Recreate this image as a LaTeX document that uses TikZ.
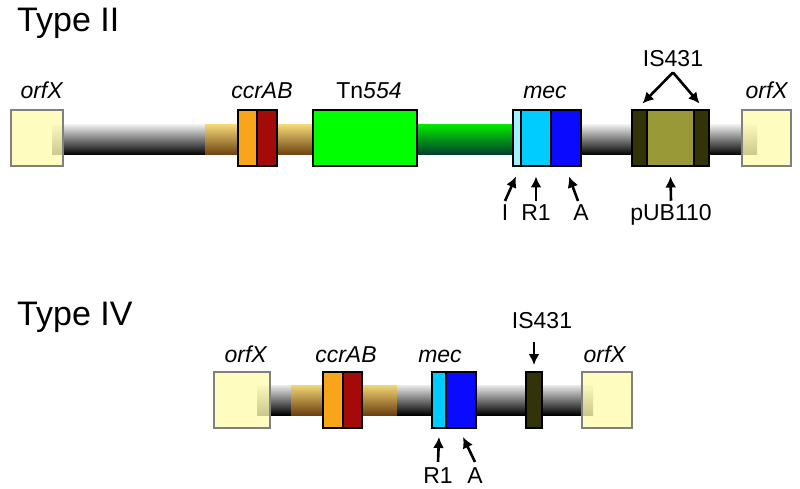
\documentclass[tikz,border=0pt]{standalone}
\usepackage{fontspec}
\setmainfont{Liberation Sans}
\usetikzlibrary{arrows.meta}

\begin{document}
\begin{tikzpicture}[x=1pt, y=-1pt]
  \definecolor{orfyellow}{HTML}{FFFBB0}
  \definecolor{ccrorange}{HTML}{F9A51B}
  \definecolor{ccrred}{HTML}{A50A0A}
  \definecolor{tngreen}{HTML}{00FF00}
  \definecolor{meci}{HTML}{A0F0FF}
  \definecolor{mecr}{HTML}{00CCFF}
  \definecolor{meca}{HTML}{0A0AFF}
  \definecolor{isdark}{HTML}{333308}
  \definecolor{isolive}{HTML}{999938}
  \definecolor{browntop}{HTML}{F2D675}
  \definecolor{brownbot}{HTML}{6B400F}
  \definecolor{greenbot}{HTML}{003B30}
  \tikzstyle{gene}=[draw=black, line width=2pt, inner sep=0pt, minimum height=56pt]
  \tikzstyle{orf}=[gene, draw=gray, fill=orfyellow, fill opacity=0.8]
  \tikzstyle{backbone}=[top color=white!92!black, bottom color=black]
  \tikzstyle{brownbar}=[top color=browntop, bottom color=brownbot]
  \tikzstyle{lbl}=[font=\fontsize{23}{27}\selectfont, inner sep=0pt, anchor=base]
  \tikzstyle{title}=[font=\fontsize{34}{40}\selectfont, inner sep=0pt, anchor=base west]
  \tikzstyle{pointer}=[-{Latex[length=11pt,width=11pt]}, line width=2.6pt]

  \useasboundingbox (0,0) rectangle (800,489);

%% Type II
  \node[title] (type2) at (17,32) {Type II};

  \shade[backbone] (52,125) rectangle (205,155);
  \shade[brownbar] (205,125) rectangle (313,155);
  \shade[top color=tngreen!90!black, bottom color=greenbot] (417,125) rectangle (513,155);
  \shade[backbone] (581,125) rectangle (632,155);
  \shade[backbone] (709,125) rectangle (757,155);

  \node[orf, minimum width=52pt] (orfL2) at (37,138.5) {};
  \node[gene, fill=ccrorange, minimum width=19pt] (ccrA2) at (247.5,138.5) {};
  \node[gene, fill=ccrred, minimum width=20pt] (ccrB2) at (267,138.5) {};
  \node[gene, fill=tngreen, minimum width=104pt] (tn2) at (365,138.5) {};
  \node[gene, fill=meci, minimum width=8pt] (mecI2) at (517,138.5) {};
  \node[gene, fill=mecr, minimum width=30pt] (mecR2) at (536,138.5) {};
  \node[gene, fill=meca, minimum width=30pt] (mecA2) at (566,138.5) {};
  \node[gene, fill=isdark, minimum width=15pt] (isL2) at (639.5,138.5) {};
  \node[gene, fill=isolive, minimum width=47pt] (isM2) at (670.5,138.5) {};
  \node[gene, fill=isdark, minimum width=15pt] (isR2) at (701.5,138.5) {};
  \node[orf, minimum width=49pt] (orfR2) at (766.5,138.5) {};

  \node[lbl] (orfLab2) at (42,99) {\textit{orfX}};
  \node[lbl] (ccrLab2) at (262,99) {\textit{ccrAB}};
  \node[lbl] (tnLab2) at (369,99) {Tn\textit{554}};
  \node[lbl] (mecLab2) at (545,99) {\textit{mec}};
  \node[lbl] (isLab2) at (673,67) {IS431};
  \node[lbl] (orfRLab2) at (767,99) {\textit{orfX}};
  \node[lbl] (iLab2) at (505,220) {I};
  \node[lbl] (r1Lab2) at (536,220) {R1};
  \node[lbl] (aLab2) at (581,220) {A};
  \node[lbl] (pubLab2) at (671,220) {pUB110};

  \draw[pointer] ([yshift=-5pt]isLab2.south) -- ([shift={(3pt,6pt)}]isL2.north);
  \draw[pointer] ([yshift=-5pt]isLab2.south) -- ([shift={(-2pt,6pt)}]isR2.north);
  \draw[pointer] ([yshift=3pt]iLab2.north) -- ([shift={(-1pt,-9pt)}]mecI2.south);
  \draw[pointer] ([yshift=3pt]r1Lab2.north) -- ([yshift=-9pt]mecR2.south);
  \draw[pointer] ([shift={(-3pt,3pt)}]aLab2.north) -- ([shift={(3pt,-9pt)}]mecA2.south);
  \draw[pointer] ([yshift=3pt]pubLab2.north) -- ([yshift=-9pt]isM2.south);

%% Type IV
  \node[title] (type4) at (17,325) {Type IV};

  \shade[backbone] (257,385) rectangle (291,415);
  \shade[brownbar] (291,385) rectangle (397,415);
  \shade[backbone] (397,385) rectangle (593,415);

  \node[orf, minimum width=56pt] (orfL4) at (242,400) {};
  \node[gene, fill=ccrorange, minimum width=20pt] (ccrA4) at (333,400) {};
  \node[gene, fill=ccrred, minimum width=19pt] (ccrB4) at (352.5,400) {};
  \node[gene, fill=mecr, minimum width=14pt] (mecR4) at (439,400) {};
  \node[gene, fill=meca, minimum width=30pt] (mecA4) at (461,400) {};
  \node[gene, fill=isdark, minimum width=16pt] (is4) at (534,400) {};
  \node[orf, minimum width=50pt] (orfR4) at (607,400) {};

  \node[lbl] (orfLab4) at (246,362) {\textit{orfX}};
  \node[lbl] (ccrLab4) at (346,362) {\textit{ccrAB}};
  \node[lbl] (mecLab4) at (440,362) {\textit{mec}};
  \node[lbl] (isLab4) at (542,328) {IS431};
  \node[lbl] (orfRLab4) at (605,362) {\textit{orfX}};
  \node[lbl] (r1Lab4) at (438,483) {R1};
  \node[lbl] (aLab4) at (475,483) {A};

  \coordinate (isTail4) at (534,342);
  \draw[pointer] (isTail4) -- ([yshift=6pt]is4.north);
  \draw[pointer] ([yshift=5pt]r1Lab4.north) -- ([yshift=-8pt]mecR4.south);
  \draw[pointer] ([yshift=5pt]aLab4.north) -- ([shift={(2pt,-8pt)}]mecA4.south);

\end{tikzpicture}
\end{document}
